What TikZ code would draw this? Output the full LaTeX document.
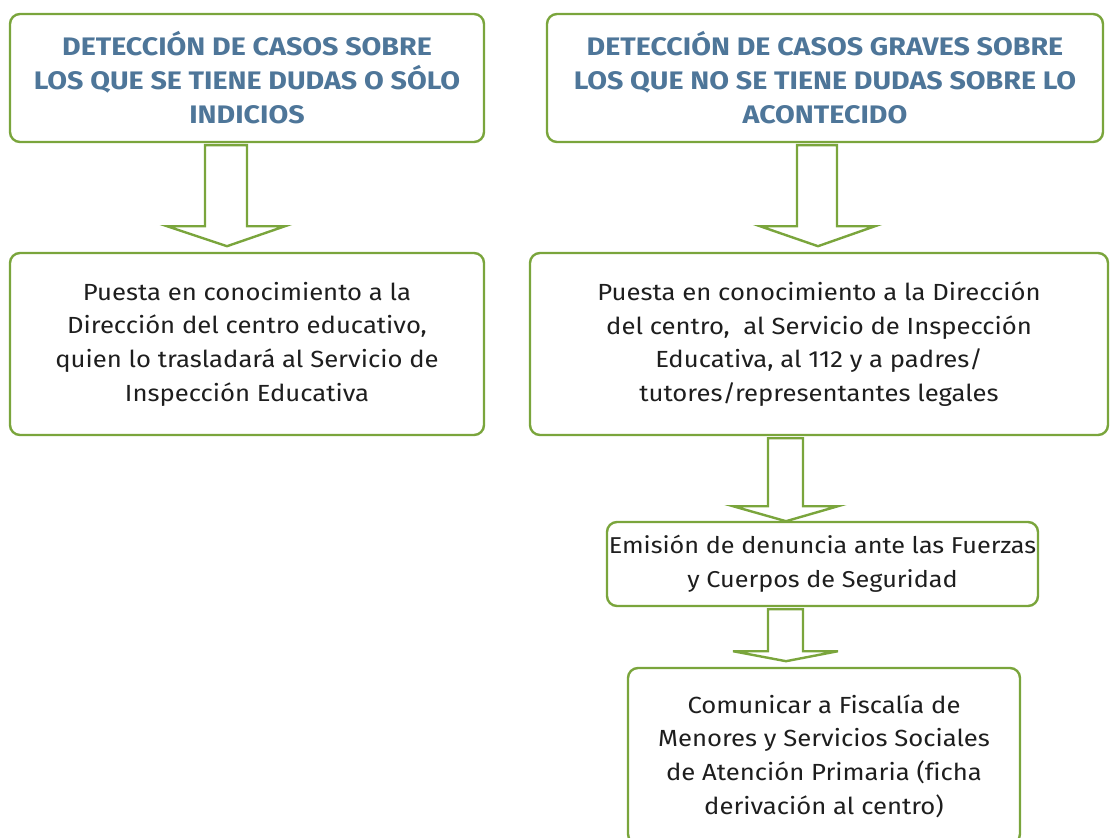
\documentclass[tikz,border=0pt]{standalone}
\usepackage{fontspec}
\setmainfont{Fira Sans}
\newfontfamily\bodyfam{Fira Sans}[FakeStretch=1.1]
\newfontfamily\titlefam{Fira Sans}[FakeStretch=1.13]
\usetikzlibrary{calc}
\definecolor{bordergreen}{HTML}{7AA53C}
\definecolor{titleblue}{HTML}{4E7699}
\definecolor{bodytext}{HTML}{1E1E1E}
\tikzset{
  box/.style={draw=bordergreen, line width=1.8pt, rounded corners=7.5pt, fill=white, inner sep=0pt, align=center},
  titletext/.style={font=\titlefam\fontsize{19}{25.5}\selectfont\bfseries, text=titleblue},
  bodytextstyle/.style={font=\bodyfam\fontsize{17.5}{25.2}\selectfont, text=bodytext},
  barrowstyle/.style={draw=bordergreen, line width=1.8pt, fill=white, line join=miter},
}
\begin{document}
\begin{tikzpicture}[x=0.75pt, y=-0.75pt]
\useasboundingbox (0,0) rectangle (1110,838);
\clip (0,0) rectangle (1110,838);
% boxes
\node[box, titletext, minimum width=474*0.75pt, minimum height=128*0.75pt] (A) at (247,78)
  {DETECCIÓN DE CASOS SOBRE\\LOS QUE SE TIENE DUDAS O SÓLO\\INDICIOS};
\node[box, titletext, minimum width=556*0.75pt, minimum height=128*0.75pt] (B) at (825,78)
  {DETECCIÓN DE CASOS GRAVES SOBRE\\LOS QUE NO SE TIENE DUDAS SOBRE LO\\ACONTECIDO};
\node[box, bodytextstyle, minimum width=474*0.75pt, minimum height=182*0.75pt] (C) at (247,344)
  {Puesta en conocimiento a la\\Dirección del centro educativo,\\quien lo trasladará al Servicio de\\Inspección Educativa};
\node[box, bodytextstyle, minimum width=578*0.75pt, minimum height=182*0.75pt] (D) at (819,344)
  {Puesta en conocimiento a la Dirección\\del centro,\ \ al Servicio de Inspección\\Educativa, al 112 y a padres/\\tutores/representantes legales};
\node[box, bodytextstyle, font=\bodyfam\fontsize{17.2}{25.2}\selectfont, minimum width=431*0.75pt, minimum height=84*0.75pt] (E) at (822.5,564)
  {Emisión de denuncia ante las Fuerzas\\y Cuerpos de Seguridad};
\node[box, bodytextstyle, minimum width=392*0.75pt, minimum height=176*0.75pt] (F) at (824,756)
  {Comunicar a Fiscalía de\\Menores y Servicios Sociales\\de Atención Primaria (f\kern0pticha\\derivación al centro)};
% block arrows
\draw[barrowstyle] (A.south) ++(-42,2) -- ++(0,81) -- ++(-38,0) -- ++(60,20) -- ++(58,-20) -- ++(-38,0) -- ++(0,-81) -- cycle;
\draw[barrowstyle] (B.south) ++(-28,2) -- ++(0,81) -- ++(-37,0) -- ++(58,20) -- ++(57,-20) -- ++(-38,0) -- ++(0,-81) -- cycle;
\draw[barrowstyle] (D.south) ++(-51,2) -- ++(0,68) -- ++(-35,0) -- ++(53,15) -- ++(52,-15) -- ++(-35,0) -- ++(0,-68) -- cycle;
\draw[barrowstyle] (E.south) ++(-54.5,2) -- ++(0,42) -- ++(-35,0) -- ++(53,10) -- ++(52,-10) -- ++(-35,0) -- ++(0,-42) -- cycle;
\end{tikzpicture}
\end{document}
